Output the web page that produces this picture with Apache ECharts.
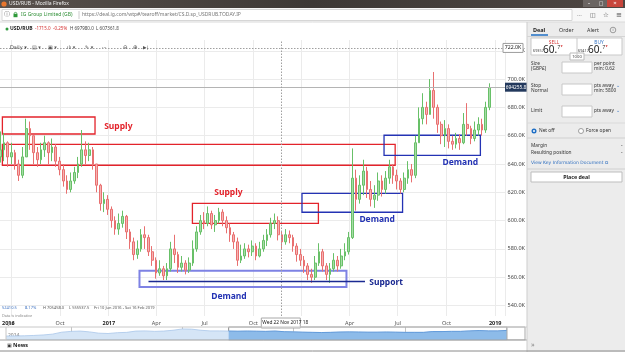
<!DOCTYPE html>
<html>
<head>
<meta charset="utf-8">
<title>USD/RUB</title>
<script src="https://cdn.jsdelivr.net/npm/echarts@6.0.0/dist/echarts.min.js"></script>
<style>
  html, body { margin: 0; padding: 0; background: #fff; }
  #chart { width: 625px; height: 352px; }
</style>
</head>
<body>
<div id="chart"></div>
<script>
// USD/RUB, weekly candles (price in thousands of points)
// week 0 = Fri 10 Jun 2016, one candle every 7 days
const firstDay = '2016-06-10';
const lastDay = '2019-01-19';

const weekOpen = [645, 650, 655, 645, 648, 640, 632, 645, 665, 660, 648, 643, 650, 655, 648, 652, 642, 636, 628, 622,
  628, 634, 640, 650, 646, 650, 640, 625, 612, 615, 608, 600, 594, 598, 603, 592, 585, 576, 580, 590,
  588, 578, 572, 563, 566, 561, 566, 580, 576, 567, 570, 565, 570, 580, 592, 600, 598, 605, 597, 600,
  606, 600, 595, 590, 585, 572, 575, 580, 578, 582, 575, 580, 586, 590, 598, 600, 590, 585, 590, 588,
  582, 576, 572, 568, 562, 560, 570, 578, 568, 562, 566, 572, 568, 575, 578, 588, 630, 615, 625, 635,
  622, 615, 618, 628, 622, 630, 638, 632, 628, 622, 630, 636, 632, 655, 672, 680, 675, 692, 680, 668,
  660, 665, 656, 654, 658, 655, 668, 665, 658, 664, 668, 664, 680];
const weekClose = [650, 655, 645, 648, 640, 632, 645, 665, 660, 648, 643, 650, 655, 648, 652, 642, 636, 628, 622, 628,
  634, 640, 650, 646, 650, 640, 625, 612, 615, 608, 600, 594, 598, 603, 592, 585, 576, 580, 590, 588,
  578, 572, 563, 566, 561, 566, 580, 576, 567, 570, 565, 570, 580, 592, 600, 598, 605, 597, 600, 606,
  600, 595, 590, 585, 572, 575, 580, 578, 582, 575, 580, 586, 590, 598, 600, 590, 585, 590, 588, 582,
  576, 572, 568, 562, 560, 570, 578, 568, 562, 566, 572, 568, 575, 578, 588, 630, 615, 625, 635, 622,
  615, 618, 628, 622, 630, 638, 632, 628, 622, 630, 636, 632, 655, 672, 680, 675, 692, 680, 668, 660,
  665, 656, 654, 658, 655, 668, 665, 658, 664, 668, 664, 680, 694];
const weekLow = [641, 642, 638, 640, 636, 628, 630, 645, 650, 640, 638, 640, 645, 640, 642, 638, 632, 624, 619, 620,
  626, 630, 638, 640, 642, 636, 620, 607, 606, 604, 595, 590, 590, 595, 587, 580, 572, 573, 578, 580,
  575, 568, 559, 561, 558, 558, 564, 570, 563, 564, 562, 563, 568, 578, 590, 594, 596, 594, 592, 598,
  596, 591, 585, 580, 568, 570, 573, 574, 575, 572, 574, 578, 582, 588, 594, 586, 580, 583, 584, 578,
  571, 568, 563, 558, 556, 558, 568, 564, 558, 556, 564, 564, 566, 572, 576, 587, 607, 612, 618, 616,
  610, 609, 614, 617, 619, 626, 626, 622, 619, 620, 626, 627, 630, 655, 668, 668, 675, 672, 662, 654,
  652, 651, 650, 651, 650, 654, 660, 654, 656, 660, 660, 662, 678];
const weekHigh = [663, 662, 656, 655, 650, 643, 652, 672, 670, 660, 652, 655, 660, 656, 658, 654, 645, 640, 632, 634,
  638, 645, 664, 656, 655, 652, 640, 626, 620, 618, 610, 603, 605, 607, 604, 594, 588, 586, 594, 596,
  590, 582, 574, 572, 568, 570, 585, 590, 578, 575, 572, 574, 586, 596, 604, 606, 610, 607, 604, 609,
  608, 603, 598, 592, 588, 583, 584, 583, 586, 584, 585, 590, 594, 602, 605, 603, 592, 594, 593, 590,
  584, 580, 575, 570, 566, 575, 584, 580, 570, 570, 577, 575, 580, 584, 592, 651, 636, 632, 643, 638,
  628, 625, 634, 632, 635, 643, 640, 636, 630, 634, 642, 640, 660, 680, 690, 684, 700, 705, 682, 670,
  671, 668, 660, 662, 661, 676, 683, 667, 670, 673, 672, 684, 697];

// navigator strip: monthly closes in RUB, from Jun 2014
const navStart = [2014, 6];
const navValues = [34.5, 35, 36, 38, 41, 46, 58,
  63, 65, 60, 52, 50, 55, 57, 65, 66, 63, 65, 70,
  78, 77, 70, 66, 66, 65, 64, 65, 64, 63, 65, 61,
  60, 58, 57, 56, 57, 59, 60, 59, 58, 58, 59, 58,
  57, 57, 57, 62, 62, 63, 63, 66, 68, 66, 66, 69];
const navSelFrom = '2016-06';

// drawn zones: [from, to, top, bottom]
const supplyZones = [
  ['2016-06-14', '2016-12-06', 673.2, 661.2],
  ['2016-06-14', '2018-06-26', 653.8, 639.1],
  ['2017-06-08', '2018-02-01', 612.2, 598.1]
];
const demandZones = [
  ['2018-01-01', '2018-07-10', 619.3, 605.9],
  ['2018-06-05', '2018-12-04', 660.3, 646.1]
];
const supportZone = ['2017-02-28', '2018-03-26', 564.6, 553.1];
const supportLine = ['2017-03-17', '2018-04-30', 557.3];
// [text, date, price, kind]
const notes = [
  ['Supply', '2017-01-19', 666.1, 'supply'],
  ['Supply', '2017-08-15', 619.5, 'supply'],
  ['Demand', '2017-08-16', 546.0, 'demand'],
  ['Support', '2018-06-09', 555.9, 'support'],
  ['Demand', '2018-05-23', 600.4, 'demand'],
  ['Demand', '2018-10-27', 640.7, 'demand']
];
const lastPrice = 694.2558;
const crossDate = '2017-11-22';
const crossPrice = 722;

const FONT = '"Noto Sans", "DejaVu Sans", sans-serif';
const RED = '#e3232b';
const BLUE = '#2433b4';

// daily categories for the time axis
const days = [];
for (let t = Date.parse(firstDay); t <= Date.parse(lastDay); t += 864e5) {
  days.push(new Date(t).toISOString().slice(0, 10));
}
const candles = weekOpen.map((o, i) => [days[7 * i], o, weekClose[i], weekLow[i], weekHigh[i]]);

const navMonths = navValues.map((v, i) => {
  const m = navStart[1] - 1 + i;
  return (navStart[0] + Math.floor(m / 12)) + '-' + String(m % 12 + 1).padStart(2, '0');
});
const navSel = navValues.map((v, i) => (navMonths[i] >= navSelFrom ? v : '-'));

const monthName = { '04': 'Apr', '07': 'Jul', '10': 'Oct' };
const isQuarter = (d) => /-(01|04|07|10)-01$/.test(d);

const zone = (z, color, width) => [
  { xAxis: z[0], yAxis: z[2], itemStyle: { color: 'rgba(0,0,0,0)', borderColor: color, borderWidth: width } },
  { xAxis: z[1], yAxis: z[3] }
];
const noteColor = { supply: RED, demand: BLUE, support: '#1b2a92' };

const chart = echarts.init(document.getElementById('chart'));

const option = {
  animation: false,
  backgroundColor: '#fff',
  textStyle: { fontFamily: FONT },
  grid: [
    { left: 0, right: 120, top: 40, bottom: 36, outerBoundsMode: 'none' },
    { left: 6, right: 118, top: 327, height: 13, outerBoundsMode: 'none' }
  ],
  xAxis: [
    {
      type: 'category',
      data: days,
      gridIndex: 0,
      axisLine: { show: false },
      axisTick: { show: false },
      axisLabel: {
        interval: (i, d) => isQuarter(d),
        margin: 4,
        formatter: (d) => {
          const mm = d.slice(5, 7);
          if (mm === '01') {
            // 2018 sits under the crosshair date box
            return d.startsWith('2018') ? '' : '{y|' + d.slice(0, 4) + '}';
          }
          return '{m|' + monthName[mm] + '}';
        },
        rich: {
          y: { fontSize: 5.5, fontWeight: 'bold', color: '#222', fontFamily: FONT },
          m: { fontSize: 5.5, color: '#555', fontFamily: FONT }
        }
      },
      splitLine: {
        show: true,
        interval: (i, d) => isQuarter(d),
        lineStyle: { color: '#ebebeb', width: 1 }
      }
    },
    {
      type: 'category',
      data: navMonths,
      gridIndex: 1,
      boundaryGap: false,
      axisLine: { show: false },
      axisTick: { show: false },
      axisLabel: {
        inside: true,
        margin: 2,
        interval: (i, m) => i === 0 || m.endsWith('-01'),
        formatter: (m) => m.slice(0, 4),
        align: 'left',
        padding: [0, 0, 0, 2],
        fontSize: 5,
        color: '#777'
      },
      splitLine: {
        show: true,
        interval: (i, m) => m.endsWith('-01'),
        lineStyle: { color: '#c4c4c4' }
      }
    }
  ],
  yAxis: [
    {
      type: 'value',
      gridIndex: 0,
      position: 'right',
      min: 532.6,
      max: 727.6,
      splitNumber: 10,
      axisLine: { show: false },
      axisTick: { show: false },
      axisLabel: {
        align: 'right',
        margin: 20,
        fontSize: 5.5,
        color: '#444',
        formatter: (v) => (Math.abs(v % 20) < 1e-6 ? v.toFixed(1) + 'K' : '')
      },
      splitLine: { showMinLine: false, showMaxLine: false, lineStyle: { color: '#ebebeb' } }
    },
    {
      type: 'value',
      gridIndex: 1,
      min: 10,
      max: 90,
      show: false
    }
  ],
  series: [
    {
      type: 'candlestick',
      name: 'USD/RUB',
      xAxisIndex: 0,
      yAxisIndex: 0,
      data: candles,
      encode: { x: 0, y: [1, 2, 3, 4] },
      barWidth: 2.2,
      itemStyle: {
        color: '#a6dca6',
        borderColor: '#68c068',
        color0: '#f6b3b3',
        borderColor0: '#e87070',
        borderWidth: 1
      },
      markArea: {
        silent: true,
        data: [
          ...supplyZones.map((z) => zone(z, RED, 1.3)),
          ...demandZones.map((z) => zone(z, BLUE, 1.3)),
          zone(supportZone, '#7e82e4', 2)
        ]
      },
      markLine: {
        silent: true,
        symbol: 'none',
        label: { show: false },
        data: [
          { yAxis: lastPrice, lineStyle: { color: '#b4b4b4', width: 1, type: 'solid' } },
          { xAxis: crossDate, lineStyle: { color: '#a0a0a0', width: 1, type: [1.5, 1.5] } },
          { yAxis: crossPrice, lineStyle: { color: '#a0a0a0', width: 1, type: [1.5, 1.5] } },
          [
            { coord: [supportLine[0], supportLine[2]], lineStyle: { color: '#1b2a92', width: 1.4, type: 'solid' } },
            { coord: [supportLine[1], supportLine[2]] }
          ]
        ]
      },
      markPoint: {
        silent: true,
        symbolSize: 0,
        data: notes.map((n) => ({
          name: n[0],
          coord: [n[1], n[2]],
          label: {
            show: true,
            position: 'inside',
            formatter: '{b}',
            color: noteColor[n[3]],
            fontWeight: 'bold',
            fontSize: 8.5,
            fontFamily: FONT
          }
        }))
      }
    },
    {
      type: 'line',
      xAxisIndex: 1,
      yAxisIndex: 1,
      data: navValues,
      symbol: 'none',
      silent: true,
      lineStyle: { color: '#a9c7ea', width: 0.8 },
      areaStyle: { color: '#d5e5f6', opacity: 1 }
    },
    {
      type: 'line',
      xAxisIndex: 1,
      yAxisIndex: 1,
      data: navSel,
      symbol: 'none',
      silent: true,
      lineStyle: { color: '#4f8fd6', width: 0.8 },
      areaStyle: { color: '#8dbbe9', opacity: 1 },
      markArea: {
        silent: true,
        data: [[
          { xAxis: navSelFrom, itemStyle: { color: 'rgba(0,0,0,0)', borderColor: '#8a8a8a', borderWidth: 1 } },
          { xAxis: navMonths[navMonths.length - 1] }
        ]]
      }
    }
  ]
};
chart.setOption(option);

// ---- page chrome around the chart ----
const T = (x, y, text, o) => ({
  type: 'text', x, y, z: 60,
  style: Object.assign({ text, fill: '#333', fontSize: 5, fontFamily: FONT, align: 'left', verticalAlign: 'middle' }, o || {})
});
const R = (x, y, w, h, fill, stroke, o) => ({
  type: 'rect', z: 50, shape: { x, y, width: w, height: h },
  style: Object.assign({ fill, stroke: stroke || null, lineWidth: 1 }, o || {})
});
const L = (x1, y1, x2, y2, stroke, w) => ({
  type: 'line', z: 55, shape: { x1, y1, x2, y2 }, style: { stroke, lineWidth: w || 1 }
});
const C = (cx, cy, r, fill, stroke) => ({
  type: 'circle', z: 58, shape: { cx, cy, r }, style: { fill, stroke: stroke || null, lineWidth: 0.8 }
});
const SYM = 'DejaVu Sans';

const xc = chart.convertToPixel({ xAxisIndex: 0 }, crossDate);
const yc = chart.convertToPixel({ yAxisIndex: 0 }, crossPrice);
const yl = chart.convertToPixel({ yAxisIndex: 0 }, lastPrice);

const chrome = [
  // title bar
  R(0, 0, 625, 8, { type: 'linear', x: 0, y: 0, x2: 1, y2: 0,
    colorStops: [{ offset: 0, color: '#59524d' }, { offset: 0.5, color: '#3d3835' }, { offset: 1, color: '#4e4743' }] }),
  C(4, 4, 2.6, '#e8762d'),
  T(9, 4, 'USD/RUB - Mozilla Firefox', { fill: '#eeeeee', fontSize: 5 }),
  R(583, 0, 12, 7, '#6b6562'), R(595, 0, 12, 7, '#6b6562'), R(607, 0, 16, 7, '#c8453b'),
  T(589, 3.5, '–', { fill: '#fff', align: 'center', fontSize: 5 }),
  T(601, 3.5, '□', { fill: '#fff', align: 'center', fontSize: 5, fontFamily: SYM }),
  T(615, 3.5, '×', { fill: '#fff', align: 'center', fontSize: 6 }),
  // address bar
  R(0, 8, 625, 14, '#f7f7f7'),
  R(2, 9.5, 570, 11, '#ffffff', '#d6d6d6'),
  T(4, 15, 'ⓘ', { fill: '#666', fontSize: 5.5, fontFamily: SYM }),
  R(13.5, 13.8, 4, 3.4, '#2f9a3a'),
  { type: 'arc', z: 58, shape: { cx: 15.5, cy: 13.8, r: 1.4, startAngle: Math.PI, endAngle: 0 }, style: { stroke: '#2f9a3a', lineWidth: 0.8, fill: null } },
  T(21, 15, 'IG Group Limited (GB)', { fill: '#2f8f36', fontSize: 5 }),
  L(79, 11, 79, 19, '#cccccc'),
  T(82, 15, 'https://deal.ig.com/wtp#/tearoff/market/CS.D.sp_USDRUB.TODAY.IP', { fill: '#777', fontSize: 5 }),
  T(577, 15, '···', { fill: '#555', fontSize: 6 }),
  T(590, 15, '◫', { fill: '#555', fontSize: 6, fontFamily: SYM }),
  T(603, 15, '☆', { fill: '#555', fontSize: 6.5, fontFamily: SYM }),
  T(616, 15, '≡', { fill: '#444', fontSize: 7, fontFamily: SYM }),
  L(0, 22, 625, 22, '#dadada'),
  // market header
  C(7, 29, 1.5, '#2f9a3e'),
  T(10, 29, 'USD/RUB', { fontWeight: 'bold', fill: '#222', fontSize: 5 }),
  T(35, 29, '-1715.0', { fill: '#d43030', fontSize: 4.5 }),
  T(53, 29, '-0.25%', { fill: '#d43030', fontSize: 4.5 }),
  T(70, 29, 'H 697980.0  L 607361.8', { fill: '#444', fontSize: 4.5 }),
  // chart toolbar
  T(10, 47.5, 'Daily ▾', { fill: '#444', fontSize: 5, fontFamily: SYM }),
  T(32, 47.5, '▤ ▾', { fill: '#555', fontSize: 5, fontFamily: SYM }),
  T(48, 47.5, '▣ ▾', { fill: '#555', fontSize: 5, fontFamily: SYM }),
  T(67, 47.5, 'ılı ▾', { fill: '#555', fontSize: 5, fontFamily: SYM }),
  T(85, 47.5, '✎ ▾', { fill: '#555', fontSize: 5, fontFamily: SYM }),
  T(102, 47.5, '···', { fill: '#555', fontSize: 5.5 }),
  T(123, 47.5, '⊖', { fill: '#555', fontSize: 5.5, fontFamily: SYM }),
  T(133, 47.5, '⊕', { fill: '#555', fontSize: 5.5, fontFamily: SYM }),
  T(143, 47.5, '▶|', { fill: '#555', fontSize: 4.5, fontFamily: SYM }),
  // crosshair labels
  R(xc - 19.5, 318, 39, 10, '#ffffff', '#a8a8a8'),
  T(xc - 18.5, 323, 'Wed 22 Nov 2017 18', { fill: '#222', fontSize: 4.8 }),
  R(503, yc - 4.5, 20, 9, '#ffffff', '#9c9c9c'),
  T(513, yc, '722.0K', { fill: '#222', fontSize: 5.2, align: 'center' }),
  R(505, yl - 4.5, 22, 9, '#23395d'),
  T(516, yl, '694255.8', { fill: '#fff', fontSize: 4.8, align: 'center' }),
  // stats under the chart
  T(2, 307.5, '52410.5', { fill: '#3a6fc0', fontSize: 4 }),
  T(25, 307.5, '8.17%', { fill: '#3a6fc0', fontSize: 4 }),
  T(43, 307.5, 'H 705458.0', { fill: '#555', fontSize: 4 }),
  T(69, 307.5, 'L 555537.5', { fill: '#555', fontSize: 4 }),
  T(94, 307.5, 'Fri 10 Jun 2016 - Sat 16 Feb 2019', { fill: '#555', fontSize: 4 }),
  T(2, 315.5, 'Data is indicative', { fill: '#888', fontSize: 3.8 }),
  T(2, 323, '2016', { fontWeight: 'bold', fill: '#222', fontSize: 5.5 }),
  // navigator frame
  L(0, 327, 527, 327, '#c8c8c8'),
  L(0, 340, 527, 340, '#a0a0a0'),
  L(6, 327, 6, 340, '#c8c8c8'),
  R(507, 327, 18, 13, '#ffffff', '#a8a8a8'),
  // news bar
  R(0, 340.5, 527, 11.5, '#ffffff'),
  T(7, 345.5, '▣', { fill: '#333', fontSize: 5, fontFamily: SYM }),
  T(13, 345.5, 'News', { fontWeight: 'bold', fill: '#222', fontSize: 5.5 }),
  // deal ticket panel
  R(527, 22, 98, 330, '#ececec'),
  L(527, 22, 527, 352, '#cdcdcd'),
  T(533, 30, 'Deal', { fontWeight: 'bold', fill: '#222', fontSize: 5.5 }),
  L(531, 35, 548, 35, '#1f6fc5', 1.5),
  T(559, 30, 'Order', { fill: '#333', fontSize: 5.3 }),
  T(587, 30, 'Alert', { fill: '#333', fontSize: 5.3 }),
  C(613, 30, 2.8, 'rgba(0,0,0,0)', '#888'),
  T(613, 30, 'i', { fill: '#666', fontSize: 4, align: 'center' }),
  L(527, 36.5, 625, 36.5, '#d4d4d4'),
  R(531, 38, 91, 17, '#ffffff', '#c9c9c9'),
  L(577, 38, 577, 55, '#c9c9c9'),
  T(554, 43, 'SELL', { fill: '#d63a3a', fontSize: 4.8, align: 'center' }),
  T(599, 43, 'BUY', { fill: '#2f6fc0', fontSize: 4.8, align: 'center' }),
  T(533, 51, '69357', { fill: '#444', fontSize: 3.8 }),
  T(543, 50.5, '60.', { fill: '#222', fontSize: 10 }),
  T(557.5, 48, '7', { fill: '#222', fontSize: 4.5 }),
  T(560.5, 46, '▼', { fill: '#d63a3a', fontSize: 2.8, fontFamily: SYM }),
  T(578, 51, '69417', { fill: '#444', fontSize: 3.8 }),
  T(588, 50.5, '60.', { fill: '#222', fontSize: 10 }),
  T(602.5, 48, '7', { fill: '#222', fontSize: 4.5 }),
  T(605.5, 46, '▼', { fill: '#d63a3a', fontSize: 2.8, fontFamily: SYM }),
  R(570, 53, 14, 7, '#ffffff', '#bbbbbb'),
  T(577, 56.5, '1000', { fill: '#444', fontSize: 4.2, align: 'center' }),
  T(531, 63.5, 'Size', { fontSize: 4.8 }),
  T(531, 68.5, '(GBP£)', { fontSize: 4.8 }),
  R(562, 62, 30, 11, '#ffffff', '#c8c8c8'),
  T(594, 63.5, 'per point', { fontSize: 4.8 }),
  T(594, 68.5, 'min: 0.62', { fontSize: 4.8 }),
  T(531, 86, 'Stop', { fontSize: 4.8 }),
  T(531, 91, 'Normal', { fontSize: 4.8 }),
  R(562, 84, 30, 11, '#ffffff', '#c8c8c8'),
  T(594, 86, 'pts away', { fontSize: 4.8 }),
  T(616, 85.5, '⌄', { fill: '#2f6fc0', fontSize: 5, fontFamily: SYM }),
  T(594, 91, 'min: 5800', { fontSize: 4.8 }),
  T(531, 111, 'Limit', { fontSize: 4.8 }),
  R(562, 106, 30, 11, '#ffffff', '#c8c8c8'),
  T(594, 111, 'pts away', { fontSize: 4.8 }),
  T(616, 110.5, '⌄', { fill: '#2f6fc0', fontSize: 5, fontFamily: SYM }),
  L(527, 123, 625, 123, '#dadada'),
  C(534, 131, 2.5, '#1f6fc5'),
  C(534, 131, 1, '#ffffff'),
  T(539, 131, 'Net off', { fontSize: 4.8 }),
  C(581, 131, 2.5, '#ffffff', '#888'),
  T(586, 131, 'Force open', { fontSize: 4.8 }),
  L(527, 138, 625, 138, '#d0d0d0'),
  T(531, 146, 'Margin', { fontSize: 4.8 }),
  T(531, 152.5, 'Resulting position', { fontSize: 4.8 }),
  T(621, 146, '-', { fontSize: 4.8 }),
  T(621, 152.5, '-', { fontSize: 4.8 }),
  T(531, 163, 'View Key Information Document ⧉', { fill: '#2f6fc0', fontSize: 4.5, fontFamily: SYM }),
  L(527, 169, 625, 169, '#d0d0d0'),
  R(531, 172, 91, 10, '#ffffff', '#bdbdbd'),
  T(576.5, 177, 'Place deal', { fontWeight: 'bold', fill: '#222', fontSize: 5.3, align: 'center' }),
  T(531, 345, '»', { fill: '#888', fontSize: 7 }),
  L(0, 351, 625, 351, '#8a8a8a')
];

chart.setOption({ graphic: { elements: chrome } });
</script>
</body>
</html>
